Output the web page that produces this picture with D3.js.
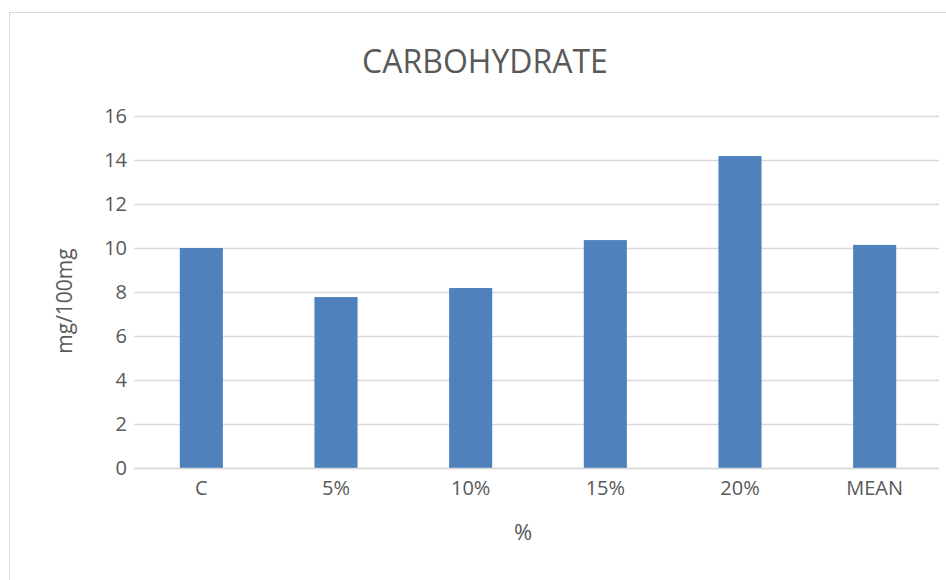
<!DOCTYPE html>
<html>
<head>
<meta charset="utf-8">
<script src="https://cdn.jsdelivr.net/npm/d3@7"></script>
<style>
  body { margin: 0; background: #fff; }
  text { font-family: "Open Sans", "Noto Sans", sans-serif; fill: #595959; }
</style>
</head>
<body>
<div id="wrapper"></div>
<script>
const categories = ["C", "5%", "10%", "15%", "20%", "MEAN"];
const values = [10.0, 7.77, 8.18, 10.36, 14.18, 10.14];
const yTicks = [0, 2, 4, 6, 8, 10, 12, 14, 16];

function barChart() {
  let dimensions = {
    width: 946,
    height: 580,
    margin: { top: 116, left: 134, bottom: 112, right: 4 }
  }
  dimensions.boundedWidth = dimensions.width - dimensions.margin.left - dimensions.margin.right;
  dimensions.boundedHeight = dimensions.height - dimensions.margin.top - dimensions.margin.bottom;

  const wrapper = d3.select("#wrapper").append("svg")
    .attr("width", dimensions.width)
    .attr("height", dimensions.height);

  // outer chart frame (only top and left edges show in the picture)
  wrapper.append("rect")
    .attr("x", 9.5).attr("y", 12.5)
    .attr("width", 1000).attr("height", 1000)
    .attr("fill", "none")
    .attr("stroke", "#d9d9d9")
    .attr("stroke-width", 1);

  const container = wrapper.append("g")
    .attr("transform", `translate(${dimensions.margin.left},${dimensions.margin.top})`);

  const xScale = d3.scaleBand()
    .domain(categories)
    .range([0, dimensions.boundedWidth])
    .padding(0);

  const yScale = d3.scaleLinear()
    .domain([0, 16])
    .range([dimensions.boundedHeight, 0]);

  // gridlines + y labels
  const yAxisGen = d3.axisLeft(yScale)
    .tickValues(yTicks)
    .tickSize(-(dimensions.boundedWidth - 3))
    .tickPadding(8);
  const axisY = container.append("g").call(yAxisGen);
  axisY.select(".domain").remove();
  axisY.selectAll(".tick line").attr("stroke", "#d9d9d9").attr("stroke-width", 1.5);
  axisY.selectAll(".tick text")
    .style("font-size", "20px")
    .attr("x", -7)
    .attr("fill", "#595959");

  // bars
  const barW = xScale.bandwidth() * 0.32;
  container.selectAll("rect.bar")
    .data(values)
    .enter()
    .append("rect")
    .attr("class", "bar")
    .attr("x", (d, i) => xScale(categories[i]) + xScale.bandwidth() / 2 - barW / 2)
    .attr("y", d => yScale(d))
    .attr("width", barW)
    .attr("height", d => yScale(0) - yScale(d))
    .attr("fill", "#4f81bd");

  // x axis
  const xAxisGen = d3.axisBottom(xScale).tickSize(0).tickPadding(13);
  const axisX = container.append("g")
    .attr("transform", `translate(0,${dimensions.boundedHeight})`)
    .call(xAxisGen);
  axisX.select(".domain")
    .attr("stroke", "#d9d9d9")
    .attr("stroke-width", 1.5)
    .attr("d", `M0,0.5H${dimensions.boundedWidth - 3}`);
  axisX.selectAll(".tick text")
    .style("font-size", "20px")
    .attr("fill", "#595959");

  // titles
  wrapper.append("text")
    .attr("x", 485).attr("y", 73)
    .attr("text-anchor", "middle")
    .style("font-size", "32px")
    .text("CARBOHYDRATE");

  wrapper.append("text")
    .attr("x", 523).attr("y", 540)
    .attr("text-anchor", "middle")
    .style("font-size", "22px")
    .text("%");

  wrapper.append("text")
    .attr("transform", "translate(72,301) rotate(-90)")
    .attr("text-anchor", "middle")
    .style("font-size", "21px")
    .text("mg/100mg");
}

barChart()
</script>
</body>
</html>
